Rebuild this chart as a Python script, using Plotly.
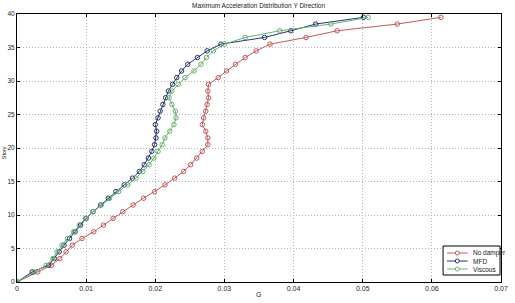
import plotly.graph_objects as go

stories = [0, 1.5, 2.5, 3.5, 4.5, 5.5, 6.5, 7.5, 8.5, 9.5, 10.5, 11.5, 12.5, 13.5, 14.5,
           15.5, 16.5, 17.5, 18.5, 19.5, 20.5, 21.5, 22.5, 23.5, 24.5, 25.5, 26.5, 27.5,
           28.5, 29.5, 30.5, 31.5, 32.5, 33.5, 34.5, 35.5, 36.5, 37.5, 38.5, 39.5]

no_damper = [0, 0.0030, 0.0050, 0.0062, 0.0071, 0.0080, 0.0094, 0.0111, 0.0125, 0.0139,
             0.0153, 0.0168, 0.0183, 0.0199, 0.0214, 0.0228, 0.0241, 0.0251, 0.0260, 0.0268,
             0.0276, 0.0276, 0.0273, 0.0268, 0.0270, 0.0273, 0.0275, 0.0277, 0.0276, 0.0277,
             0.0291, 0.0303, 0.0316, 0.0330, 0.0346, 0.0366, 0.0418, 0.0463, 0.0550, 0.0613]

mfd = [0, 0.0022, 0.0046, 0.0054, 0.0061, 0.0068, 0.0076, 0.0084, 0.0092, 0.0100,
       0.0110, 0.0121, 0.0132, 0.0143, 0.0155, 0.0167, 0.0177, 0.0184, 0.0190, 0.0195,
       0.0199, 0.0201, 0.0202, 0.0200, 0.0204, 0.0207, 0.0211, 0.0215, 0.0219, 0.0225,
       0.0231, 0.0238, 0.0247, 0.0261, 0.0275, 0.0295, 0.0358, 0.0396, 0.0432, 0.0501]

viscous = [0, 0.0025, 0.0042, 0.0052, 0.0058, 0.0065, 0.0073, 0.0082, 0.0090, 0.0099,
           0.0110, 0.0122, 0.0134, 0.0147, 0.0160, 0.0172, 0.0182, 0.0191, 0.0198, 0.0204,
           0.0210, 0.0214, 0.0221, 0.0227, 0.0230, 0.0229, 0.0224, 0.0220, 0.0224, 0.0233,
           0.0243, 0.0256, 0.0266, 0.0274, 0.0284, 0.0300, 0.0330, 0.0380, 0.0454, 0.0508]

series_names = ["No damper", "MFD", "Viscous"]
series_colors = ["#c25a5a", "#27336e", "#66b270"]
x_ticks = [0, 0.01, 0.02, 0.03, 0.04, 0.05, 0.06, 0.07]
x_tick_labels = ["0", "0.01", "0.02", "0.03", "0.04", "0.05", "0.06", "0.07"]
y_ticks = [0, 5, 10, 15, 20, 25, 30, 35, 40]

W, H = 515, 303
L, R, T, B = 15, 7, 14, 21
PW, PH = W - L - R, H - T - B


def px(x):
    return (x - L) / PW


def py(y):
    return (H - B - y) / PH


fig = go.Figure()
for name, vals, col in zip(series_names, [no_damper, mfd, viscous], series_colors):
    fig.add_trace(go.Scatter(
        x=vals, y=stories, mode="lines+markers", name=name,
        line=dict(color=col, width=1),
        marker=dict(symbol="circle-open", size=4.5, color=col, line=dict(width=1, color=col)),
        showlegend=False))

font = "Liberation Sans, Arial, sans-serif"
axis_common = dict(showline=True, linecolor="black", linewidth=1, mirror="ticks",
                   ticks="inside", ticklen=3, tickcolor="black",
                   showgrid=True, gridcolor="#b4b4b4", griddash="1px,2px", gridwidth=1,
                   zeroline=False, tickfont=dict(size=7, family=font, color="#222"))

fig.update_xaxes(range=[0, 0.07], tickvals=x_ticks, ticktext=x_tick_labels, **axis_common)
fig.update_yaxes(range=[0, 40], tickvals=y_ticks, ticklabelstandoff=0,
                 **{**axis_common, "tickfont": dict(size=6.5, family=font, color="#222")})

shapes = []
annotations = []
# Legend box
shapes.append(dict(type="rect", xref="paper", yref="paper",
                   x0=px(449), x1=px(507), y0=py(275), y1=py(246),
                   line=dict(color="black", width=1), fillcolor="white", layer="above"))
rows = [253, 261, 269]
for name, col, ry in zip(series_names, series_colors, rows):
    shapes.append(dict(type="line", xref="paper", yref="paper",
                       x0=px(453), x1=px(474), y0=py(ry), y1=py(ry),
                       line=dict(color=col, width=1), layer="above"))
    shapes.append(dict(type="circle", xref="paper", yref="paper",
                       x0=px(461.5), x1=px(465.5), y0=py(ry + 2), y1=py(ry - 2),
                       line=dict(color=col, width=1), fillcolor="white", layer="above"))
    annotations.append(dict(text=name, xref="paper", yref="paper", x=px(477), y=py(ry),
                            xanchor="left", yanchor="middle", showarrow=False,
                            font=dict(size=6.5, family=font, color="#222")))

annotations.append(dict(text="Maximum Acceleration Distribution Y Direction",
                        xref="paper", yref="paper", x=px(261), y=py(5),
                        xanchor="center", yanchor="middle", showarrow=False,
                        font=dict(size=6.5, family=font, color="#222")))
annotations.append(dict(text="G", xref="paper", yref="paper", x=px(261), y=py(294),
                        xanchor="center", yanchor="middle", showarrow=False,
                        font=dict(size=7, family=font, color="#222")))
annotations.append(dict(text="Story", xref="paper", yref="paper", x=px(2), y=py(153),
                        xanchor="center", yanchor="middle", showarrow=False, textangle=-90,
                        font=dict(size=5.5, family=font, color="#222")))

fig.update_layout(width=W, height=H, margin=dict(l=L, r=R, t=T, b=B),
                  paper_bgcolor="white", plot_bgcolor="white",
                  shapes=shapes, annotations=annotations, showlegend=False)

fig.write_html("out.html")
